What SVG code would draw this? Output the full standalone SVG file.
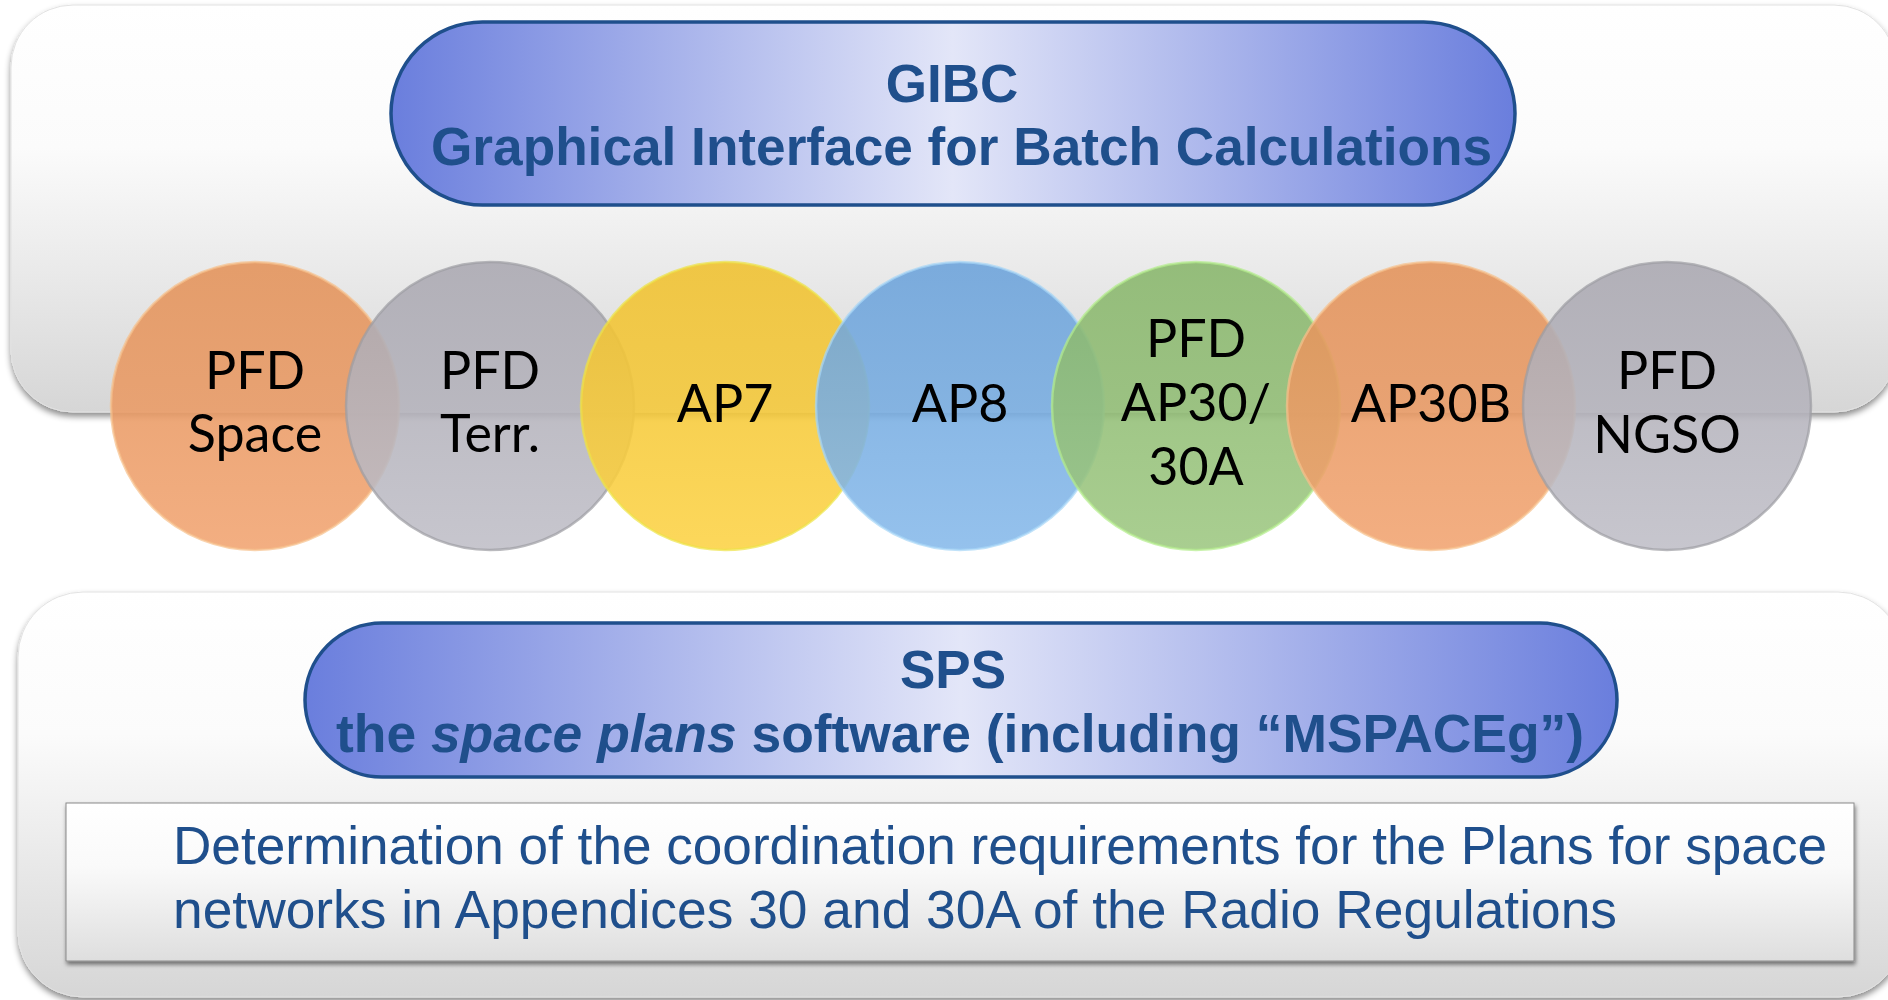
<svg xmlns="http://www.w3.org/2000/svg" width="1888" height="1000" viewBox="0 0 1888 1000">
<style>
.title{font-family:"Liberation Sans",Arial,sans-serif;font-weight:bold;font-size:53px;fill:#1F4F8C}
.body{font-family:"Liberation Sans",Arial,sans-serif;font-size:53px;fill:#1F4F8C}
.ct{font-family:Lato,"Open Sans",sans-serif;font-size:52px;fill:#000;text-anchor:middle}
.pill{stroke:#1F4F8C;stroke-width:3.5}
.circ{fill-opacity:0.88;stroke-width:2.5;stroke-opacity:0.7}
</style>
<defs>
<linearGradient id="contG" x1="0" y1="0" x2="0" y2="1">
<stop offset="0" stop-color="#FFFFFF"/>
<stop offset="0.35" stop-color="#FBFBFB"/>
<stop offset="1" stop-color="#D6D6D6"/>
</linearGradient>
<linearGradient id="boxG" x1="0" y1="0" x2="0" y2="1">
<stop offset="0" stop-color="#FFFFFF"/>
<stop offset="0.4" stop-color="#FAFAFA"/>
<stop offset="1" stop-color="#DEDEDE"/>
</linearGradient>
<linearGradient id="pillG" x1="0" y1="0" x2="1" y2="0">
<stop offset="0" stop-color="#6A7EDD"/>
<stop offset="0.5" stop-color="#E3E6F8"/>
<stop offset="1" stop-color="#6A7EDD"/>
</linearGradient>
<linearGradient id="orG" x1="0" y1="0" x2="0" y2="1">
<stop offset="0" stop-color="#E39259"/>
<stop offset="1" stop-color="#F1A370"/>
</linearGradient>
<linearGradient id="grG" x1="0" y1="0" x2="0" y2="1">
<stop offset="0" stop-color="#AAA8B1"/>
<stop offset="1" stop-color="#BFBEC7"/>
</linearGradient>
<linearGradient id="yeG" x1="0" y1="0" x2="0" y2="1">
<stop offset="0" stop-color="#F0C12E"/>
<stop offset="1" stop-color="#FCD244"/>
</linearGradient>
<linearGradient id="blG" x1="0" y1="0" x2="0" y2="1">
<stop offset="0" stop-color="#6BA2DA"/>
<stop offset="1" stop-color="#86B9EA"/>
</linearGradient>
<linearGradient id="gnG" x1="0" y1="0" x2="0" y2="1">
<stop offset="0" stop-color="#88B66B"/>
<stop offset="1" stop-color="#9DC781"/>
</linearGradient>
<filter id="sh" x="-5%" y="-10%" width="110%" height="125%">
<feDropShadow dx="0" dy="4" stdDeviation="3" flood-color="#000" flood-opacity="0.45"/>
</filter>
<filter id="sh2" x="-5%" y="-10%" width="110%" height="130%">
<feDropShadow dx="1" dy="3" stdDeviation="2" flood-color="#000" flood-opacity="0.5"/>
</filter>
</defs>

<g id="gibc-panel">
<rect x="11" y="5" width="1885" height="407" rx="62" fill="url(#contG)" stroke="#E2E2E2" stroke-width="1" filter="url(#sh)"/>
</g>
<g id="gibc-title">
<rect class="pill" x="391" y="22" width="1124" height="183" rx="91.5" fill="url(#pillG)"/>
<text class="title" x="952" y="102" text-anchor="middle">GIBC</text>
<text class="title" x="431" y="165" textLength="1061" lengthAdjust="spacingAndGlyphs">Graphical Interface for Batch Calculations</text>
</g>

<g id="sps-panel">
<rect x="18" y="592" width="1885" height="405" rx="65" fill="url(#contG)" stroke="#E2E2E2" stroke-width="1" filter="url(#sh)"/>
</g>
<g id="sps-title">
<rect class="pill" x="305" y="623" width="1312" height="154" rx="77" fill="url(#pillG)"/>
<text class="title" x="953" y="688" text-anchor="middle">SPS</text>
<text class="title" x="336" y="752" textLength="1248" lengthAdjust="spacingAndGlyphs">the <tspan font-style="italic">space plans</tspan> software (including “MSPACEg”)</text>
</g>
<g id="sps-description">
<rect x="66" y="803" width="1788" height="158" fill="url(#boxG)" stroke="#8A8A8A" stroke-width="1" filter="url(#sh2)"/>
<text class="body" x="173" y="864" textLength="1654" lengthAdjust="spacingAndGlyphs">Determination of the coordination requirements for the Plans for space</text>
<text class="body" x="173" y="928" textLength="1444" lengthAdjust="spacingAndGlyphs">networks in Appendices 30 and 30A of the Radio Regulations</text>
</g>

<g id="pfd-space">
<circle class="circ" cx="255" cy="406" r="144" fill="url(#orG)" stroke="#F6C08C"/>
<text class="ct" x="255" y="389">PFD</text>
<text class="ct" x="255" y="452">Space</text>
</g>
<g id="pfd-terr">
<circle class="circ" cx="490" cy="406" r="144" fill="url(#grG)" stroke="#9C9CA2"/>
<text class="ct" x="490" y="389">PFD</text>
<text class="ct" x="490" y="452">Terr.</text>
</g>
<g id="ap7">
<circle class="circ" cx="725" cy="406" r="144" fill="url(#yeG)" stroke="#EEE246"/>
<text class="ct" x="725" y="422">AP7</text>
</g>
<g id="ap8">
<circle class="circ" cx="960" cy="406" r="144" fill="url(#blG)" stroke="#A6D6F6"/>
<text class="ct" x="960" y="422">AP8</text>
</g>
<g id="pfd-ap30">
<circle class="circ" cx="1196" cy="406" r="144" fill="url(#gnG)" stroke="#B4EC8C"/>
<text class="ct" x="1196" y="357">PFD</text>
<text class="ct" x="1196" y="421">AP30/</text>
<text class="ct" x="1196" y="485">30A</text>
</g>
<g id="ap30b">
<circle class="circ" cx="1431" cy="406" r="144" fill="url(#orG)" stroke="#F6C08C"/>
<text class="ct" x="1431" y="422">AP30B</text>
</g>
<g id="pfd-ngso">
<circle class="circ" cx="1667" cy="406" r="144" fill="url(#grG)" stroke="#9C9CA2"/>
<text class="ct" x="1667" y="389">PFD</text>
<text class="ct" x="1667" y="453">NGSO</text>
</g>

<g id="connectors"/>
</svg>
